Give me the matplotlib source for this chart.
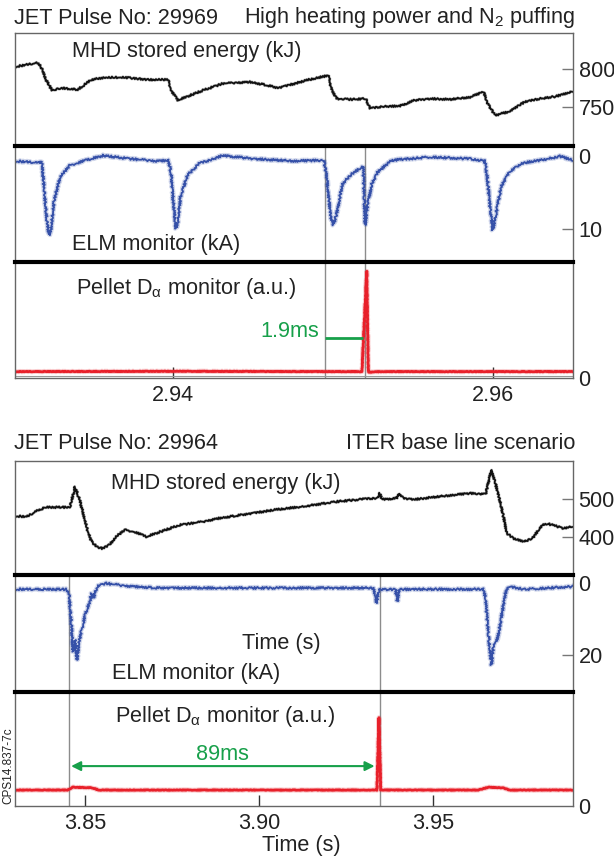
import matplotlib
matplotlib.use("Agg")
import matplotlib.pyplot as plt

plt.rcParams["font.family"] = ["Liberation Sans", "DejaVu Sans"]
plt.rcParams["mathtext.fontset"] = "custom"
plt.rcParams["mathtext.rm"] = "Liberation Sans"
plt.rcParams["mathtext.it"] = "Liberation Sans:italic"

# ---- pulse 29969 (top block) ----
t_w1 = [2.93013, 2.93148, 2.93172, 2.93206, 2.93244, 2.93306, 2.93406, 2.93491,
        2.93575, 2.93700, 2.93844, 2.93969, 2.93994, 2.94031, 2.94091, 2.94188,
        2.94313, 2.94481, 2.94581, 2.94656, 2.94728, 2.94850, 2.94938, 2.94975,
        2.94988, 2.95022, 2.95119, 2.95206, 2.95231, 2.95316, 2.95413, 2.95513,
        2.95610, 2.95731, 2.95856, 2.95941, 2.95966, 2.96013, 2.96100, 2.96200,
        2.96297, 2.96394, 2.96500]
w1 = [803, 808, 805, 786, 772, 775, 773, 786, 789, 789, 786, 786, 770, 759, 764,
      772, 781, 783, 779, 775, 779, 786, 790, 792, 775, 761, 760, 761, 748, 751,
      751, 759, 761, 760, 763, 770, 755, 739, 744, 757, 761, 764, 771]

t_elm1 = [2.93013, 2.93159, 2.93179, 2.93196, 2.93214, 2.93226, 2.93238, 2.93258,
          2.93294, 2.93356, 2.93454, 2.93564, 2.93723, 2.93895, 2.93973, 2.93988,
          2.94005, 2.94018, 2.94029, 2.94047, 2.94091, 2.94164, 2.94311, 2.94508,
          2.94753, 2.94944, 2.94961, 2.94986, 2.95003, 2.95022, 2.95059, 2.95120,
          2.95189, 2.95201, 2.95218, 2.95243, 2.95279, 2.95365, 2.95611, 2.95856,
          2.95949, 2.95966, 2.95983, 2.95998, 2.96015, 2.96051, 2.96101, 2.96174,
          2.96346, 2.96419, 2.96500]
elm1 = [0.65, 0.9, 0.65, 4.7, 9.3, 10.9, 10.0, 6.0, 2.9, 1.25, 0.55, -0.1, 0.33,
        0.65, 0.55, 2.4, 7.0, 10.0, 9.2, 5.6, 2.6, 1.0, -0.1, 0.35, 0.65, 0.55,
        2.9, 8.4, 9.5, 8.0, 3.8, 2.4, 1.4, 9.5, 6.5, 3.8, 2.2, 0.55, 0.1, 0.35,
        0.65, 3.3, 7.4, 10.2, 8.4, 4.2, 2.2, 1.0, 0.35, 0.0, 0.55]

t_da1 = [2.93013, 2.94000, 2.95000, 2.95181, 2.95211, 2.95221, 2.95300, 2.96500]
da1 = [0.055, 0.058, 0.055, 0.055, 0.92, 0.05, 0.055, 0.055]

pellet_lines1 = [2.94949, 2.95201]
gap1 = (2.94949, 2.95189, 0.342)

# ---- pulse 29964 (bottom block) ----
t_w2 = [3.82989, 3.83328, 3.83664, 3.83891, 3.84227, 3.84566, 3.84713, 3.84848,
        3.84960, 3.85072, 3.85187, 3.85353, 3.85491, 3.85693, 3.85920, 3.86144,
        3.86425, 3.86764, 3.87158, 3.87721, 3.88397, 3.88848, 3.89523, 3.90425,
        3.91328, 3.92227, 3.92905, 3.93411, 3.93468, 3.93523, 3.93638, 3.93974,
        3.94032, 3.94144, 3.94483, 3.94934, 3.95609, 3.96060, 3.96511, 3.96678,
        3.96793, 3.96960, 3.97129, 3.97299, 3.97635, 3.97859, 3.98144, 3.98313,
        3.98764, 3.99023]
w2 = [455, 453, 471, 478, 478, 478, 533, 497, 458, 418, 387, 373, 369, 378, 402,
      418, 413, 400, 413, 431, 440, 449, 458, 471, 481, 493, 499, 503, 516, 500,
      499, 503, 514, 502, 499, 504, 511, 515, 513, 577, 542, 480, 409, 396, 387,
      396, 431, 434, 422, 428]

t_elm2 = [3.82989, 3.84454, 3.84543, 3.84601, 3.84655, 3.84713, 3.84770, 3.84825,
          3.84905, 3.85017, 3.85129, 3.85187, 3.85241, 3.85353, 3.85580, 3.86144,
          3.87046, 3.89299, 3.91552, 3.93299, 3.93376, 3.93445, 3.93920, 3.93974,
          3.94032, 3.94934, 3.96454, 3.96511, 3.96566, 3.96624, 3.96678, 3.96736,
          3.96825, 3.96905, 3.97017, 3.97075, 3.97187, 3.97635, 3.98313, 3.99023]
elm2 = [1.75, 1.8, 2.9, 10.3, 19.1, 15.8, 21.4, 16.8, 13.0, 8.4, 5.6, 2.9, 4.2,
        1.0, 0.1, 0.8, 1.4, 1.4, 1.4, 1.4, 5.6, 1.8, 1.8, 5.1, 1.8, 1.75, 1.75,
        4.6, 11.2, 17.7, 22.8, 17.7, 16.3, 13.0, 6.5, 2.9, 1.0, 1.8, 1.4, 1.0]

t_da2 = [3.82989, 3.84500, 3.84650, 3.85200, 3.85400, 3.93390, 3.93445, 3.93500,
         3.96300, 3.96600, 3.97000, 3.97200, 3.99023]
da2 = [0.14, 0.14, 0.165, 0.16, 0.14, 0.14, 0.775, 0.14, 0.14, 0.165, 0.16, 0.14,
       0.14]

pellet_lines2 = [3.84532, 3.93491]
gap2 = (3.84601, 3.93322, 0.35)

BLACK = "#111111"
BLUE = "#3550a8"
RED = "#e8202a"
GREEN = "#17a04a"
GREY = "#8c8c8c"
FS = 15.6

W, H = 614, 859
fig = plt.figure(figsize=(W / 100, H / 100), dpi=100)


def box(top, bottom):
    return [15 / W, 1 - bottom / H, 558 / W, (bottom - top) / H]


def style(ax, first, last):
    for s in ("left", "right", "top", "bottom"):
        ax.spines[s].set_color("#666666")
        ax.spines[s].set_linewidth(1.0)
    if not first:
        ax.spines["top"].set_color("black")
        ax.spines["top"].set_linewidth(3)
    if not last:
        ax.spines["bottom"].set_visible(False)
        ax.set_xticks([])
    ax.yaxis.tick_right()
    ax.tick_params(axis="y", which="both", direction="in", length=8, width=1,
                   color="#777777", labelsize=FS, pad=4, labelcolor="#222222")
    ax.tick_params(axis="y", which="minor", length=0)
    ax.tick_params(axis="x", direction="in", length=8, width=1, color="#333333",
                   labelsize=FS, pad=5, labelcolor="#222222")


def trace(ax, t, v, color, lw, scale, halo):
    ln, = ax.plot(t, v, color=color, lw=lw, solid_joinstyle="round")
    ln.set_sketch_params(scale=scale, length=2.5, randomness=2)
    if halo:
        h, = ax.plot(t, v, color=color, lw=lw + halo, alpha=0.22)
        h.set_sketch_params(scale=scale, length=2.5, randomness=2)


def block(tops, xlim, tw, w, wlim, wticks, te, e, elim, eticks, td, d,
          lines, xticks, label_pos):
    a1 = fig.add_axes(box(tops[0], tops[1]))
    a2 = fig.add_axes(box(tops[1], tops[2]))
    a3 = fig.add_axes(box(tops[2], tops[3]))
    style(a1, True, False)
    style(a2, False, False)
    style(a3, False, True)
    for a in (a1, a2, a3):
        a.set_xlim(*xlim)

    trace(a1, tw, w, BLACK, 1.3, 0.9, 0.8)
    a1.set_ylim(*wlim)
    a1.set_yticks(wticks)

    trace(a2, te, e, BLUE, 1.3, 1.1, 1.8)
    a2.set_ylim(*elim)
    a2.set_yticks(eticks[1:])
    a2.set_yticks([0], labels=["0"], minor=True)

    trace(a3, td, d, RED, 2.0, 0.3, 1.5)
    a3.set_ylim(0, 1)
    a3.set_yticks([])
    a3.set_yticks([0], labels=["0"], minor=True)
    a3.set_xticks(xticks, labels=[f"{x:.2f}" for x in xticks])

    for a in (a2, a3):
        for t in lines:
            a.axvline(t, color=GREY, lw=1, zorder=0)

    a1.text(label_pos[0][0], label_pos[0][1], "MHD stored energy (kJ)",
            transform=a1.transAxes, fontsize=FS, va="center", color="#222222")
    a2.text(label_pos[1][0], label_pos[1][1], "ELM monitor (kA)",
            transform=a2.transAxes, fontsize=FS, va="center", color="#222222")
    a3.text(label_pos[2][0], label_pos[2][1],
            r"Pellet D$_{\mathrm{α}}$ monitor (a.u.)",
            transform=a3.transAxes, fontsize=FS, va="center", color="#222222")
    return a1, a2, a3


# top block
b1, b2, b3 = block((33, 146, 262, 378), (2.93013, 2.96500), t_w1, w1,
                   (698.7, 847.4), [750, 800], t_elm1, elm1, (14.6, -1.42),
                   [0, 10], t_da1, da1, pellet_lines1, [2.94, 2.96],
                   [(0.102, 0.834), (0.102, 0.153), (0.109, 0.773)])
b3.axhline(0.02, color="#999999", lw=0.8)
b3.hlines(gap1[2], gap1[0], gap1[1], color=GREEN, lw=2)
b3.text(0.5446, 0.405, "1.9ms", transform=b3.transAxes, color=GREEN,
        fontsize=FS, ha="right", va="center")

# bottom block
c1, c2, c3 = block((461, 575, 692, 806), (3.82989, 3.99023), t_w2, w2,
                   (298.4, 600.8), [400, 500], t_elm2, elm2, (30.3, -2.2),
                   [0, 20], t_da2, da2, pellet_lines2, [3.85, 3.90, 3.95],
                   [(0.172, 0.804), (0.174, 0.16), (0.179, 0.783)])
c2.text(0.4076, 0.416, "Time (s)", transform=c2.transAxes, fontsize=FS,
        va="center", color="#222222")
c3.annotate("", xy=(gap2[1], gap2[2]), xytext=(gap2[0], gap2[2]),
            arrowprops=dict(arrowstyle="<|-|>", color=GREEN, lw=1.5,
                            mutation_scale=14, shrinkA=0, shrinkB=0))
c3.text(0.3725, 0.456, "89ms", transform=c3.transAxes, color=GREEN,
        fontsize=FS, ha="center", va="center")

# titles and annotations
fig.text(14 / W, 1 - 18 / H, "JET Pulse No: 29969", fontsize=FS, va="center",
         color="#222222")
fig.text(575 / W, 1 - 18 / H, "High heating power and N$_2$ puffing",
         fontsize=FS, va="center", ha="right", color="#222222")
fig.text(14 / W, 1 - 444 / H, "JET Pulse No: 29964", fontsize=FS, va="center",
         color="#222222")
fig.text(575 / W, 1 - 444 / H, "ITER base line scenario", fontsize=FS,
         va="center", ha="right", color="#222222")
fig.text(301 / W, 1 - 845 / H, "Time (s)", fontsize=FS, va="center",
         ha="center", color="#222222")
fig.text(8 / W, 1 - 766 / H, "CPS14.837-7c", fontsize=8.5, rotation=90,
         va="center", ha="center", color="#222222")

fig.savefig("out.png", dpi=100)
